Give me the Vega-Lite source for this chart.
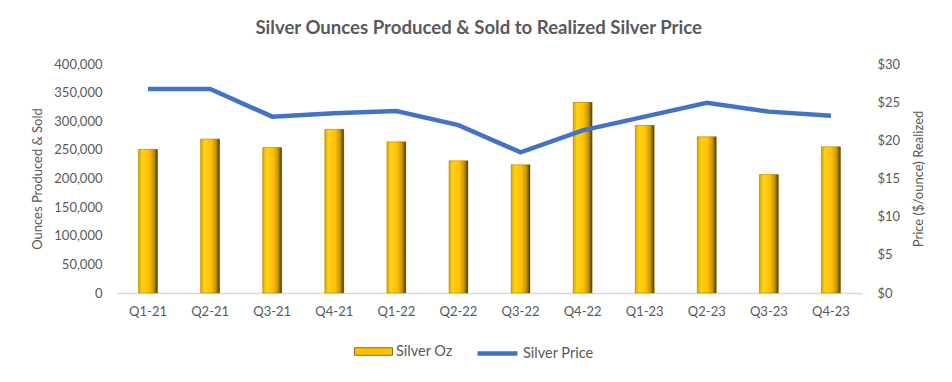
{
  "$schema": "https://vega.github.io/schema/vega-lite/v6.json",
  "width": 745,
  "height": 229,
  "autosize": {"type": "none"},
  "padding": {"left": 117, "top": 64, "right": 90, "bottom": 89},
  "background": "white",
  "title": {
    "text": "Silver Ounces Produced & Sold to Realized Silver Price",
    "font": "Lato",
    "fontSize": 18.6,
    "fontWeight": "bold",
    "color": "#595959",
    "anchor": "middle",
    "frame": "bounds",
    "offset": 20
  },
  "config": {
    "view": {"stroke": null},
    "axis": {
      "labelFont": "Lato",
      "labelFontSize": 13,
      "labelColor": "#595959",
      "titleFont": "Lato",
      "titleFontSize": 13,
      "titleFontWeight": "normal",
      "titleColor": "#595959",
      "ticks": false,
      "grid": false,
      "domain": false,
      "labelOverlap": false
    },
    "legend": {
      "labelFont": "Lato",
      "labelFontSize": 14.5,
      "labelColor": "#595959"
    }
  },
  "data": {
    "values": [
      {"q": "Q1-21", "oz": 251000, "price": 26.73},
      {"q": "Q2-21", "oz": 269000, "price": 26.73},
      {"q": "Q3-21", "oz": 254000, "price": 23.1},
      {"q": "Q4-21", "oz": 286000, "price": 23.55},
      {"q": "Q1-22", "oz": 264000, "price": 23.84},
      {"q": "Q2-22", "oz": 231000, "price": 22.0},
      {"q": "Q3-22", "oz": 224000, "price": 18.43},
      {"q": "Q4-22", "oz": 333000, "price": 21.3},
      {"q": "Q1-23", "oz": 293000, "price": 23.1},
      {"q": "Q2-23", "oz": 273000, "price": 24.93},
      {"q": "Q3-23", "oz": 207000, "price": 23.76},
      {"q": "Q4-23", "oz": 255500, "price": 23.23}
    ]
  },
  "encoding": {
    "x": {
      "field": "q",
      "type": "ordinal",
      "sort": null,
      "title": null,
      "scale": {"paddingInner": 0, "paddingOuter": 0},
      "axis": {"labelAngle": 0, "labelPadding": 12, "domain": true, "domainColor": "#D9D9D9", "domainWidth": 1.5}
    }
  },
  "layer": [
    {
      "encoding": {
        "y": {
          "field": "oz",
          "type": "quantitative",
          "title": "Ounces Produced & Sold",
          "scale": {"domain": [0, 400000]},
          "axis": {"values": [0, 50000, 100000, 150000, 200000, 250000, 300000, 350000, 400000], "format": ",d", "labelPadding": 15, "titlePadding": 9}
        }
      },
      "layer": [
        {
          "mark": {"type": "bar", "width": 19},
          "encoding": {
            "fill": {
              "datum": "Silver Oz",
              "type": "nominal",
              "scale": {"range": ["#FFC000"]},
              "legend": {
                "title": null,
                "orient": "none",
                "legendX": 237,
                "legendY": 268,
                "symbolType": "M-1,-0.2H1V0.2H-1Z",
                "symbolSize": 1444,
                "symbolStrokeColor": "#6b5200",
                "symbolStrokeWidth": 0.8,
                "labelOffset": 3
              }
            }
          }
        },
        {
          "mark": {
            "type": "bar",
            "width": 19,
            "fill": {
              "gradient": "linear",
              "x1": 0, "y1": 0, "x2": 1, "y2": 0,
              "stops": [
                {"offset": 0, "color": "#D9A600"},
                {"offset": 0.2, "color": "#FFD21A"},
                {"offset": 0.55, "color": "#FFC000"},
                {"offset": 0.8, "color": "#C79400"},
                {"offset": 1, "color": "#4D3B00"}
              ]
            },
            "stroke": "#6b5200",
            "strokeWidth": 0.5,
            "strokeOpacity": 0.6
          }
        }
      ]
    },
    {
      "mark": {"type": "line", "strokeWidth": 4.5, "strokeJoin": "miter"},
      "encoding": {
        "y": {
          "field": "price",
          "type": "quantitative",
          "title": "Price ($/ounce) Realized",
          "scale": {"domain": [0, 30]},
          "axis": {"orient": "right", "values": [0, 5, 10, 15, 20, 25, 30], "format": "$,d", "labelPadding": 15, "titlePadding": 13, "titleAngle": 270, "titleBaseline": "top"}
        },
        "stroke": {
          "datum": "Silver Price",
          "type": "nominal",
          "scale": {"range": ["#4472C4"]},
          "legend": {
            "title": null,
            "orient": "none",
            "legendX": 358,
            "legendY": 267,
            "symbolType": "stroke",
            "symbolStrokeWidth": 4.5,
            "symbolSize": 1600,
            "labelOffset": 3
          }
        }
      }
    }
  ],
  "resolve": {"scale": {"y": "independent"}}
}
